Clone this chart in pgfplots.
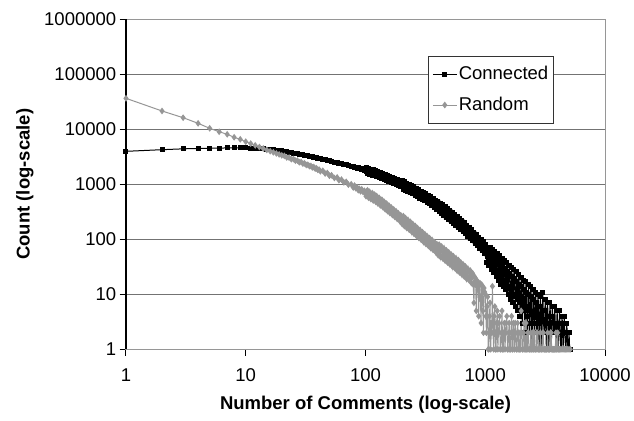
\documentclass[border=0pt]{standalone}
\usepackage{fontspec}
\setmainfont{Liberation Sans}
\usepackage{pgfplots}
\usepackage{pgfplotstable}
\pgfplotsset{compat=1.18}
\definecolor{rgray}{RGB}{150,150,150}
\definecolor{gridc}{RGB}{115,115,115}
\definecolor{boxc}{RGB}{150,150,150}

\pgfplotstableread{
x y
1 3980
2 4260
3 4416
4 4487
5 4529
6 4560
7 4581
8 4592
9 4592
10 4581
11 4550
12 4508
13 4457
14 4406
15 4345
16 4285
17 4227
18 4169
19 4102
20 4036
21 3954
22 3882
23 3811
24 3750
25 3681
26 3622
27 3573
28 3516
29 3467
30 3420
31 3373
32 3327
33 3273
34 3228
35 3184
36 3141
37 3105
38 3062
39 3027
40 2985
41 2951
42 2917
44 2851
46 2786
48 2723
50 2661
52 2600
55 2541
58 2483
60 2427
63 2371
66 2317
69 2265
72 2208
76 2143
79 2138
81 2014
83 2051
85 1936
87 2009
89 1914
91 1959
93 1832
95 1871
98 1782
100 1928
101 2002
102 1687
104 1567
105 1807
106 1943
107 1603
108 1519
110 1786
111 1884
112 1622
114 1474
115 1758
116 1826
117 1517
119 1429
120 1626
122 1772
123 1483
124 1382
126 1644
127 1704
129 1432
130 1327
132 1528
133 1639
135 1349
137 1275
138 1496
140 1572
141 1349
143 1223
145 1455
146 1508
148 1250
150 1175
151 1334
153 1450
155 1211
157 1129
158 1343
160 1392
162 1169
164 1083
166 1245
168 1335
170 1099
172 1040
174 1222
176 1284
178 1102
180 999
182 1189
184 1229
186 1016
188 952
191 1076
193 1168
195 973
197 905
200 1112
202 1163
204 909
207 821
209 1003
211 1105
214 838
216 781
219 984
221 1051
224 847
226 741
229 953
232 997
234 763
237 704
240 842
243 947
245 733
248 669
251 861
254 898
257 701
260 632
263 770
266 846
269 640
272 596
275 750
279 799
282 643
285 562
288 721
292 753
295 575
299 529
302 632
305 709
309 547
313 498
316 640
320 668
324 522
327 470
331 573
335 630
339 476
343 443
347 557
351 592
355 474
359 413
363 527
367 548
372 417
376 382
380 455
385 508
389 391
394 354
398 469
403 493
407 357
412 314
417 406
422 457
427 318
432 291
437 393
442 424
447 320
452 270
457 374
462 393
468 277
473 250
479 315
484 364
490 259
495 231
501 319
507 335
513 242
519 212
525 274
531 308
537 213
543 195
550 262
556 283
562 213
569 179
575 248
582 260
589 183
596 165
603 207
610 239
617 171
624 152
631 209
638 220
646 159
653 139
661 180
668 201
676 139
684 126
692 169
700 182
708 136
716 114
724 157
733 165
741 115
750 104
759 129
767 149
776 106
785 94
794 129
804 135
813 97
822 85
832 109
841 122
851 84
861 76
871 102
881 110
891 82
902 69
912 95
923 99
933 70
944 62
955 78
966 90
977 64
989 56
1000 80
1012 62
1023 38
1035 48
1047 72
1059 58
1072 33
1084 42
1096 70
1109 55
1122 28
1135 36
1148 66
1161 50
1175 25
1189 32
1202 60
1216 45
1230 21
1245 27
1259 55
1274 41
1288 18
1303 24
1318 50
1334 36
1349 15
1365 21
1380 45
1396 33
1413 14
1429 18
1445 42
1462 29
1479 12
1496 16
1514 38
1531 26
1549 10
1567 14
1585 34
1603 24
1622 8
1641 12
1660 31
1679 21
1698 7
1718 10
1738 28
1758 19
1778 6
1799 9
1820 26
1841 17
1862 5
1884 8
1905 23
1928 15
1950 4
1972 7
1995 20
2018 14
2042 3
2065 6
2089 18
2113 12
2138 2
2163 5
2188 17
2213 11
2239 1
2265 4
2291 15
2317 10
2344 2
2371 3
2399 14
2427 9
2455 1
2483 3
2512 12
2541 8
2570 1
2600 3
2630 11
2661 7
2692 2
2723 2
2754 10
2786 6
2818 1
2851 3
2884 9
2917 6
2951 1
2985 2
3020 11
3055 5
3090 2
3126 2
3162 8
3199 5
3236 1
3273 3
3311 7
3350 4
3388 1
3428 2
3467 7
3508 4
3548 1
3589 2
3631 6
3673 4
3715 2
3758 2
3802 6
3846 3
3890 1
3936 2
3981 5
4027 3
4074 1
4121 2
4169 5
4217 3
4266 1
4315 1
4365 4
4416 3
4467 1
4519 2
4571 4
4624 2
4677 1
4732 1
4786 3
4842 2
4898 1
4955 1
5012 2
5070 1
5129 1
}\conn

\pgfplotstableread{
x y
1 36600
2 21530
3 16260
4 12850
5 10420
6 9036
7 8110
8 7161
9 6577
10 5957
11 5495
12 5105
13 4764
14 4477
15 4217
16 3999
17 3819
18 3648
19 3499
20 3365
21 3290
22 3080
23 3060
24 2870
25 2880
26 2690
27 2700
28 2520
29 2540
30 2380
31 2400
32 2250
33 2270
34 2140
35 2160
36 2030
37 2060
38 1930
39 1950
40 1830
41 1850
42 1726
44 1766
46 1570
48 1607
50 1429
52 1462
55 1303
58 1334
60 1189
63 1216
66 1084
69 1109
72 986
76 1002
79 877
81 948
83 848
85 884
87 782
89 826
91 746
93 811
95 734
98 760
100 664
101 608
102 745
104 777
105 641
106 572
107 685
108 732
110 579
111 539
112 630
114 690
115 550
116 508
117 622
119 649
120 544
122 478
123 577
124 612
126 492
127 448
129 547
130 568
132 465
133 414
135 493
137 524
138 412
140 382
141 444
143 483
145 383
146 352
148 430
150 446
151 371
153 325
155 390
157 411
158 329
160 300
162 366
164 379
166 311
168 276
170 329
172 350
174 275
176 255
178 296
180 323
182 256
184 235
186 286
188 297
191 247
193 216
195 259
197 274
200 213
202 191
204 252
207 264
209 203
211 175
214 224
216 243
219 177
221 161
224 199
226 224
229 164
232 149
234 197
237 207
240 163
243 137
245 177
248 190
251 141
254 126
257 166
260 175
263 134
266 116
269 148
272 160
275 116
279 106
282 131
285 147
288 108
292 98
295 129
299 135
302 106
305 90
309 116
313 124
316 92
320 82
324 109
327 114
331 87
335 76
339 96
343 105
347 76
351 69
355 86
359 97
363 71
367 64
372 85
376 89
380 70
385 59
389 77
394 82
398 60
403 52
407 75
412 80
417 58
422 48
427 66
432 74
437 49
442 45
447 58
452 68
457 46
462 41
468 59
473 63
479 47
484 38
490 53
495 58
501 40
507 35
513 50
519 53
525 39
531 32
537 44
543 49
550 33
556 30
562 39
569 45
575 31
582 27
589 39
596 42
603 31
610 25
617 35
624 38
631 27
638 23
646 33
653 35
661 26
668 21
676 29
684 32
692 22
700 19
708 25
716 29
724 20
733 18
741 25
750 27
759 20
767 16
776 22
785 24
794 15
804 7
813 21
822 20
832 15
841 5
851 18
861 17
871 12
881 4
891 15
902 16
912 8
923 3
933 15
944 14
955 5
966 2
977 13
989 11
1000 10
1012 4
1023 2
1035 6
1047 9
1059 1
1072 1
1084 4
1096 7
1109 1
1122 2
1135 3
1148 14
1161 2
1175 1
1189 4
1202 6
1216 1
1230 1
1245 3
1259 5
1274 1
1288 2
1303 3
1318 4
1334 1
1349 1
1365 2
1380 5
1396 1
1413 1
1429 2
1445 3
1462 1
1479 2
1496 3
1514 4
1531 1
1549 1
1567 2
1585 3
1603 1
1622 1
1641 2
1660 4
1679 1
1698 1
1718 3
1738 2
1758 1
1778 3
1799 2
1820 1
1841 1
1862 3
1884 2
1905 1
1928 1
1950 2
1972 1
1995 5
2018 2
2042 1
2065 1
2089 2
2113 3
2138 1
2163 1
2188 3
2213 1
2239 1
2265 2
2291 2
2317 1
2344 1
2371 1
2399 2
2427 1
2455 1
2483 2
2512 1
2541 1
2570 2
2600 1
2630 1
2661 1
2692 2
2723 2
2754 1
2786 1
2818 1
2851 1
2884 2
2917 1
2951 1
2985 1
3020 2
3055 2
3090 1
3126 1
3162 1
3199 1
3236 1
3273 1
3311 2
3350 1
3388 1
3428 1
3467 1
3508 2
3548 2
3589 1
3631 1
3673 1
3715 1
3758 1
3802 1
3846 1
3890 2
3936 1
3981 1
4027 2
4074 1
4121 1
4169 1
4266 1
4365 1
4467 1
4571 1
4677 1
4786 1
4898 1
5012 1
5129 1
}\rand

\begin{document}
\begin{tikzpicture}[font=\fontsize{9.25}{11}\selectfont]
\useasboundingbox (-63pt,-35.35pt) rectangle (254pt,174.65pt);
\begin{axis}[
  at={(0,0)}, anchor=south west,
  scale only axis, width=239.5pt, height=165pt,
  xmode=log, ymode=log,
  xmin=1, xmax=10000, ymin=1, ymax=1000000,
  xtick={1,10,100,1000,10000},
  xticklabels={1,10,100,1000,10000},
  ytick={1,10,100,1000,10000,100000,1000000},
  yticklabels={1,10,100,1000,10000,100000,1000000},
  minor tick length=0pt,
  tick align=outside, tick pos=left,
  major tick length=3.2pt,
  tick style={black, line width=0.5pt},
  ymajorgrids, grid style={gridc, line width=0.5pt},
  axis line style={boxc, line width=0.5pt},
  tick label style={font=\fontsize{9.25}{11}\selectfont},
  xticklabel style={anchor=north, inner sep=0pt, yshift=-6.4pt},
  yticklabel style={anchor=east, inner sep=0pt, xshift=-1.5pt},
  xlabel={Number of Comments (log-scale)},
  ylabel={Count (log-scale)},
  label style={font=\fontsize{9.25}{11}\selectfont\bfseries},
  xlabel style={at={(axis description cs:0.5,-0.1688)}, anchor=center},
  ylabel style={at={(axis description cs:-0.2109,0.5)}, anchor=center},
  clip=false,
  legend cell align=left,
  legend style={at={(axis description cs:0.630,0.889)}, anchor=north west,
    draw=black!80, line width=0.5pt, fill=white,
    inner xsep=2pt, inner ysep=5pt, row sep=7pt,
    nodes={inner ysep=0pt, inner xsep=0.75pt, anchor=west},
    font=\fontsize{9.25}{11}\selectfont},
  legend image code/.code={\draw[mark repeat=2, mark phase=2, #1] plot coordinates {(0pt,0pt) (6pt,0pt) (12pt,0pt)};},
]
\addplot[black, line width=0.5pt, mark=square*, mark size=1pt, mark options={solid, fill=black}] table[x=x, y=y] {\conn};
\addlegendentry{Connected}
\addplot[rgray, line width=0.5pt, mark=diamond*, mark size=1.3pt, mark options={solid, fill=rgray}] table[x=x, y=y] {\rand};
\addlegendentry{Random}
\draw[black, line width=0.6pt] (rel axis cs:0,0) -- (rel axis cs:0,1);
\end{axis}
\end{tikzpicture}
\end{document}
